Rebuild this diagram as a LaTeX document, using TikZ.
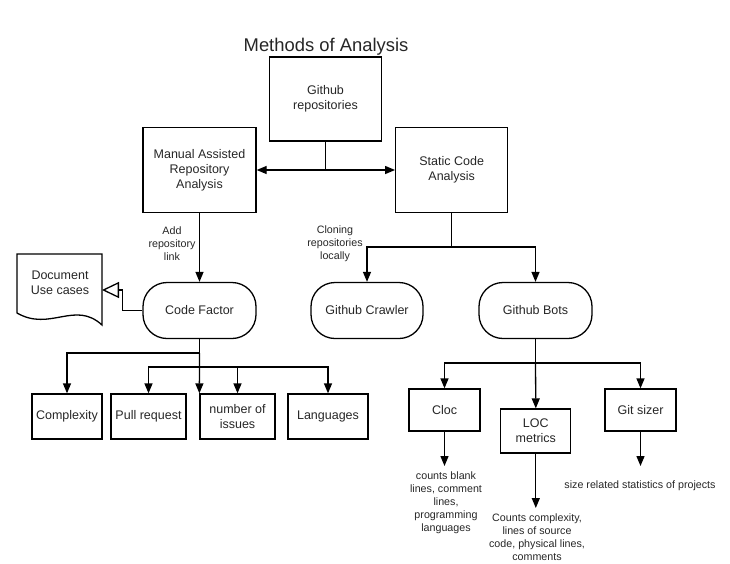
\documentclass[tikz,border=0pt]{standalone}
\usepackage{fontspec}
\setmainfont{Liberation Sans}
\usetikzlibrary{arrows.meta,positioning}
\begin{document}
\begin{tikzpicture}[x=1pt,y=-1pt,
  line width=1.3pt,
  boxtext/.style={font=\fontsize{12.5}{15}\selectfont, align=center, text=black!85},
  smalltext/.style={font=\fontsize{10.7}{13}\selectfont, align=center, text=black!85, inner sep=0pt},
  procbox/.style={boxtext, draw, rectangle, inner sep=0pt},
  termbox/.style={boxtext, draw, rectangle, rounded corners=24pt, inner sep=0pt, minimum width=113pt, minimum height=56pt},
  arr/.style={-{Triangle[length=10pt,width=8pt]}},
  openarr/.style={-{Triangle[open,length=17pt,width=16pt,line width=1.3pt]}}
]
\path[use as bounding box] (0,0) rectangle (730,563);

\node[font=\fontsize{18.4}{22}\selectfont, text=black!85] (title) at (326,47) {Methods of Analysis};

\node[procbox, minimum width=112pt, minimum height=84pt] (gh) at (325.5,99) {Github\\repositories};
\node[procbox, minimum width=113pt, minimum height=85pt] (man) at (199.5,170) {Manual Assisted\\Repository\\Analysis};
\node[procbox, minimum width=112pt, minimum height=85pt] (sca) at (451.7,170) {Static Code\\Analysis};

\node[termbox] (cf) at (199.5,310.5) {Code Factor};
\node[termbox, minimum width=112pt] (crawl) at (367,310.5) {Github Crawler};
\node[termbox] (bots) at (535.5,310.5) {Github Bots};

% document shape
\draw (17,313) -- (17,254) -- (102,254) -- (102,325)
  .. controls (75,300) and (50,332) .. (17,313) -- cycle;
\node[boxtext, inner sep=0pt] (doc) at (60,282.5) {Document\\Use cases};
\coordinate (docpt) at (102,290);

\node[procbox, minimum width=70pt, minimum height=45pt] (cx) at (67,416.5) {Complexity};
\node[procbox, minimum width=75pt, minimum height=45pt] (pr) at (148.5,416.5) {Pull request};
\node[procbox, minimum width=75pt, minimum height=45pt] (iss) at (237.5,416.5) {number of\\issues};
\node[procbox, minimum width=80pt, minimum height=45pt] (lang) at (328,416.5) {Languages};

\node[procbox, minimum width=71pt, minimum height=42pt] (cloc) at (444.5,410) {Cloc};
\node[procbox, minimum width=70pt, minimum height=44pt] (loc) at (535.8,431) {LOC\\metrics};
\node[procbox, minimum width=71pt, minimum height=42pt] (git) at (640.5,410) {Git sizer};

\node[smalltext] (lbladd) at (172,244) {Add\\repository\\link};
\node[smalltext] (lblclone) at (335,244) {Cloning\\repositories\\locally};

\node[smalltext] (clocnote) at (446,503) {counts blank\\lines, comment\\lines,\\programming\\languages};
\node[smalltext] (locnote) at (537,537.5) {Counts complexity,\\lines of source\\code, physical lines,\\comments};
\node[smalltext] (gitnote) at (640,486) {size related statistics of projects};

% connectors
\coordinate (j1) at (325.5,170);
\draw (gh.south) -- (j1);
\draw[arr] (j1) -- (man.east);
\draw[arr] (j1) -- (sca.west);

\draw[arr] (man.south) -- (cf.north);

\coordinate (j2) at (451.7,247);
\draw (sca.south) -- (j2);
\draw[arr] (j2) -| (crawl.north);
\draw[arr] (j2) -| (bots.north);

\draw[openarr] (cf.west) -- ++(-20,0) |- (docpt);

\coordinate (j3) at (199.5,353);
\coordinate (j4) at (199.5,367);
\draw (cf.south) -- (j3);
\draw[arr] (j3) -| (cx.north);
\draw[arr] (j3) -- (iss.north west);
\draw[arr] (j4) -| (pr.north);
\draw[arr] (j4) -| (iss.north);
\draw[arr] (j4) -| (lang.north);

\coordinate (j5) at (535.5,363);
\draw (bots.south) -- (j5);
\draw[arr] (j5) -| (cloc.north);
\draw[arr] (j5) -- (loc.north);
\draw[arr] (j5) -| (git.north);

\coordinate (clocend) at (444.5,466);
\coordinate (locend) at (535.8,508);
\coordinate (gitend) at (640.5,466);
\draw[arr] (cloc.south) -- (clocend);
\draw[arr] (loc.south) -- (locend);
\draw[arr] (git.south) -- (gitend);
\end{tikzpicture}
\end{document}
